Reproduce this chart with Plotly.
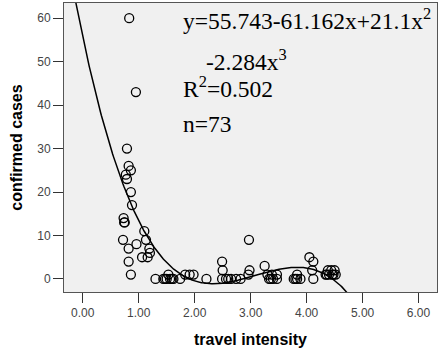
import numpy as np
import plotly.graph_objects as go

# observed data points (travel intensity, confirmed cases)
travel_intensity = [
    0.83, 0.95, 0.79, 0.82, 0.86, 0.77, 0.79, 0.86, 0.88, 0.73,
    0.74, 0.75, 1.10, 0.72, 0.82, 0.96, 1.13, 1.19, 1.20, 1.06,
    1.16, 0.82, 0.86, 1.30, 1.44, 1.50, 1.56, 1.62, 1.74, 1.53,
    1.83, 1.91, 1.98, 2.21, 2.49, 2.50, 2.49, 2.56, 2.65, 2.74,
    2.82, 2.97, 2.98, 2.96, 3.25, 3.30, 3.38, 3.47, 3.33, 3.40,
    3.47, 3.83, 3.77, 3.83, 3.89, 4.05, 4.12, 4.10, 4.12, 4.34,
    4.40, 4.46, 4.52, 4.38, 4.44, 4.50, 1.47, 2.60, 3.36, 3.80,
    4.36, 4.48, 1.59,
]
confirmed_cases = [
    60, 43, 30, 26, 25, 24, 23, 20, 17, 14,
    13, 13, 11, 9, 7, 8, 9, 7, 6, 5,
    5, 4, 1, 0, 0, 0, 0, 0, 0, 1,
    1, 1, 1, 0, 4, 2, 0, 0, 0, 0,
    0, 9, 2, 1, 3, 1, 1, 1, 0, 0,
    0, 1, 0, 0, 0, 5, 4, 2, 0, 1,
    1, 1, 1, 2, 2, 2, 0, 0, 0, 0,
    1, 1, 0,
]

# cubic fit coefficients shown on the chart: y = b0 + b1 x + b2 x^2 + b3 x^3
fit_coefficients = [55.743, -61.162, 21.1, -2.284]

x_tick_values = [0, 1, 2, 3, 4, 5, 6]
x_tick_labels = ["0.00", "1.00", "2.00", "3.00", "4.00", "5.00", "6.00"]
y_tick_values = [0, 10, 20, 30, 40, 50, 60]

x_range = [-0.335, 6.33]
y_range = [-3.0, 63.5]

fit_x = np.linspace(x_range[0], x_range[1], 400)
fit_y = sum(c * fit_x ** i for i, c in enumerate(fit_coefficients))

fig = go.Figure()
fig.add_trace(go.Scatter(
    x=travel_intensity, y=confirmed_cases, mode="markers",
    marker=dict(symbol="circle-open", size=9, color="black",
                line=dict(width=1.3, color="black")),
    cliponaxis=False, showlegend=False,
))
fig.add_trace(go.Scatter(
    x=fit_x, y=fit_y, mode="lines",
    line=dict(color="black", width=1.5), showlegend=False,
))

serif = dict(family="Liberation Serif, Times New Roman, serif", size=23.5, color="black")
notes = [
    ("y=55.743-61.162x+21.1x<sup>2</sup>", 0.316, 0.945),
    ("-2.284x<sup>3</sup>", 0.378, 0.804),
    ("R<sup>2</sup>=0.502", 0.316, 0.710),
    ("n=73", 0.316, 0.582),
]
for text, px, py in notes:
    fig.add_annotation(text=text, xref="paper", yref="paper", x=px, y=py,
                       xanchor="left", yanchor="middle", showarrow=False, font=serif,
                       borderpad=0)

axis_common = dict(
    showgrid=False, zeroline=False, showline=True, mirror=True,
    linecolor="#555555", linewidth=1, ticks="outside", ticklen=10,
    tickcolor="#333333", tickwidth=1, automargin=False,
    tickfont=dict(family="Liberation Sans, Arial, sans-serif", size=12, color="#444444"),
)
fig.update_layout(
    width=440, height=351,
    margin=dict(l=64, r=3, t=3, b=59),
    paper_bgcolor="white", plot_bgcolor="#f0f0f0",
    xaxis=dict(range=x_range, tickvals=x_tick_values, ticktext=x_tick_labels,
               title=dict(text="travel intensity", standoff=14,
                          font=dict(family="Liberation Sans, Arial, sans-serif", size=16,
                                    color="black", weight="bold")),
               **axis_common),
    yaxis=dict(range=y_range, tickvals=y_tick_values,
               title=dict(text="confirmed cases", standoff=10,
                          font=dict(family="Liberation Sans, Arial, sans-serif", size=16,
                                    color="black", weight="bold")),
               **axis_common),
)
fig.write_html(
    "out.html",
    config={"displayModeBar": False},
    post_script="document.body.style.margin='0';document.body.style.overflow='hidden';",
)
